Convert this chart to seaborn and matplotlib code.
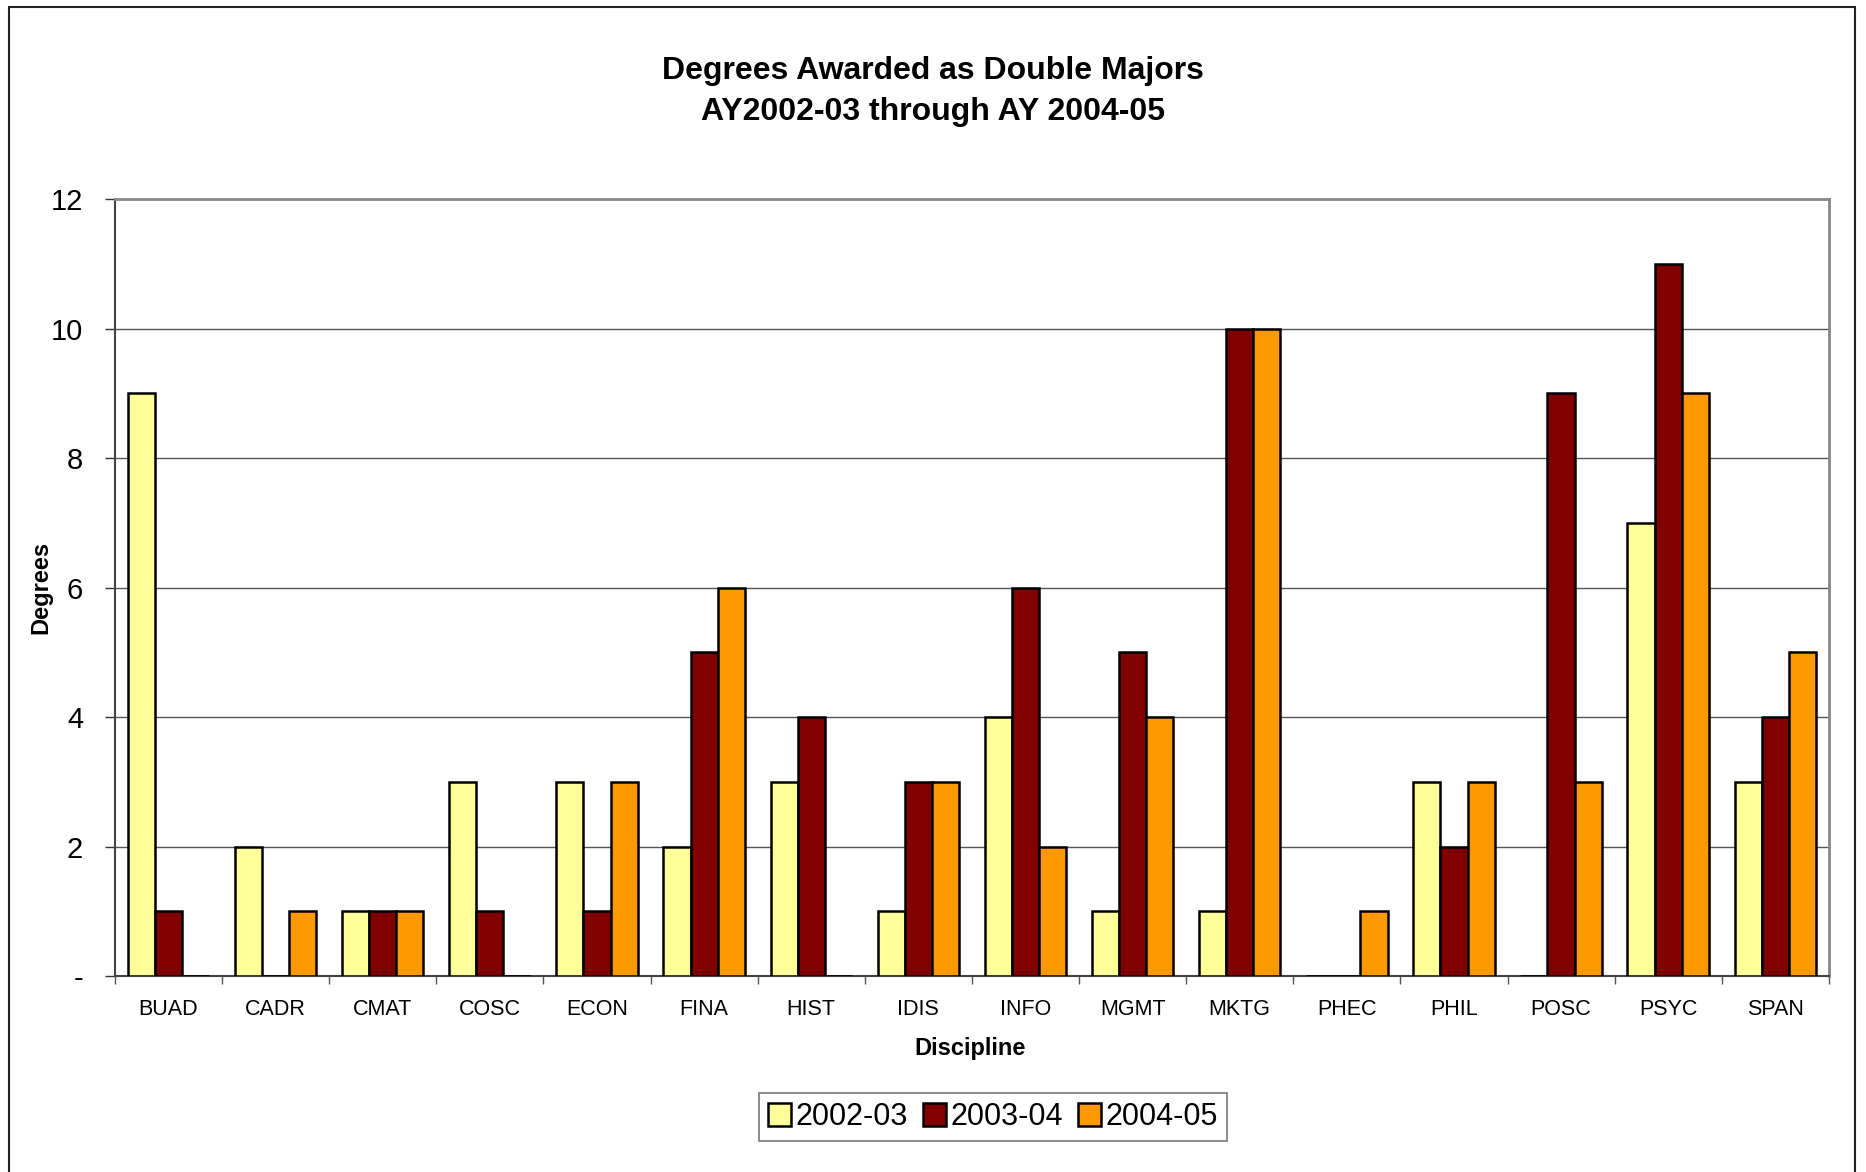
import pandas as pd
import numpy as np
import matplotlib.pyplot as plt
import seaborn as sns
from matplotlib.patches import Rectangle, Patch

disciplines = ["BUAD", "CADR", "CMAT", "COSC", "ECON", "FINA", "HIST", "IDIS",
               "INFO", "MGMT", "MKTG", "PHEC", "PHIL", "POSC", "PSYC", "SPAN"]
years = ["2002-03", "2003-04", "2004-05"]
y2002 = [9, 2, 1, 3, 3, 2, 3, 1, 4, 1, 1, 0, 3, 0, 7, 3]
y2003 = [1, 0, 1, 1, 1, 5, 4, 3, 6, 5, 10, 0, 2, 9, 11, 4]
y2004 = [0, 1, 1, 0, 3, 6, 0, 3, 2, 4, 10, 1, 3, 3, 9, 5]
colors = ["#FFFF99", "#800000", "#FF9900"]

df = pd.DataFrame({
    "Discipline": disciplines * 3,
    "Year": [years[0]] * 16 + [years[1]] * 16 + [years[2]] * 16,
    "Degrees": y2002 + y2003 + y2004,
})

sns.set_style("white")
plt.rcParams["font.family"] = ["Liberation Sans", "DejaVu Sans"]
plt.rcParams["text.color"] = "black"
plt.rcParams["axes.labelcolor"] = "black"
plt.rcParams["xtick.color"] = "black"
plt.rcParams["ytick.color"] = "black"

fig = plt.figure(figsize=(18.66, 11.72), dpi=100)
ax = fig.add_axes([0.0616, 0.1672, 0.9185, 0.663])

# outer chart frame
fig.patches.append(Rectangle((0.0048, -0.02), 0.9893, 1.014, transform=fig.transFigure,
                             fill=False, edgecolor="#222222", linewidth=1.5))

sns.barplot(data=df, x="Discipline", y="Degrees", hue="Year", palette=colors,
            saturation=1, edgecolor="black", linewidth=1.8, width=0.76, gap=0,
            errorbar=None, legend=False, ax=ax, zorder=3)

ax.set_ylim(0, 12)
ax.set_xlim(-0.5, len(disciplines) - 0.5)
ax.set_yticks(range(0, 13, 2))
ax.set_yticklabels(["-"] + [str(v) for v in range(2, 13, 2)], fontsize=21)
ax.tick_params(axis="y", direction="out", length=7, width=1, color="#333333", pad=16, left=True)
ax.yaxis.grid(True, color="#555555", linewidth=1, zorder=0)
ax.set_axisbelow(True)

ax.set_xticks(np.arange(len(disciplines)))
ax.set_xticklabels(disciplines, fontsize=15.5)
ax.set_xticks(np.arange(len(disciplines) + 1) - 0.5, minor=True)
ax.tick_params(axis="x", which="major", length=0, pad=16.5)
ax.tick_params(axis="x", which="minor", direction="out", length=6, width=1, color="#555555", bottom=True)

for side in ["top", "right"]:
    ax.spines[side].set_color("#888888")
    ax.spines[side].set_linewidth(2)
ax.spines["left"].set_color("#444444")
ax.spines["left"].set_linewidth(1.5)
ax.spines["bottom"].set_color("#444444")
ax.spines["bottom"].set_linewidth(1.5)

ax.set_xlabel("Discipline", fontsize=17, fontweight="bold")
ax.set_ylabel("Degrees", fontsize=17, fontweight="bold")
ax.xaxis.set_label_coords(0.499, -0.079)
ax.yaxis.set_label_coords(-0.0367, 0.5)

fig.text(0.5, 1 - 71 / 1172, "Degrees Awarded as Double Majors", ha="center", va="center",
         fontsize=23, fontweight="bold")
fig.text(0.5, 1 - 112 / 1172, "AY2002-03 through AY 2004-05", ha="center", va="center",
         fontsize=23, fontweight="bold")

handles = [Patch(facecolor=c, edgecolor="black", linewidth=1.8) for c in colors]
leg = fig.legend(handles, years, loc="center", bbox_to_anchor=(993 / 1866, 1 - 1117 / 1172),
                 ncol=3, fontsize=22, frameon=True, fancybox=False, handlelength=0.75,
                 handleheight=0.75, handletextpad=0.15, columnspacing=0.5, borderpad=0.3)
leg.get_frame().set_edgecolor("#555555")
leg.get_frame().set_linewidth(1.2)

plt.savefig("out.png", dpi=100)
